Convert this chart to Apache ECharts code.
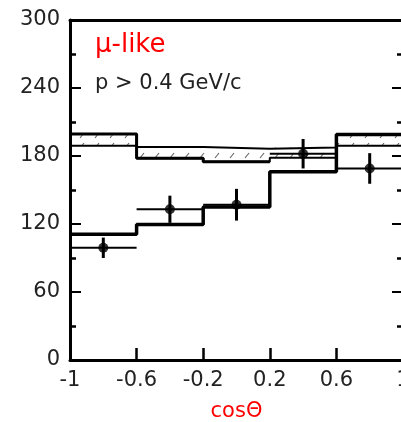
<!DOCTYPE html>
<html>
<head>
<meta charset="utf-8">
<script src="https://cdn.jsdelivr.net/npm/echarts@6/dist/echarts.min.js"></script>
<style>
html,body{margin:0;padding:0;background:#fff;}
#chart{width:401px;height:422px;}
</style>
</head>
<body>
<div id="chart"></div>
<script>
// ---- data ----
const binEdges = [-1, -0.6, -0.2, 0.2, 0.6, 1];
const binCenters = [-0.8, -0.4, 0, 0.4, 0.8];
const noOscHigh = [199.5, 188, 186.5, 187.5, 198.5];   // hatched band upper edge
const noOscLow  = [189, 178, 175, 178.5, 189];         // hatched band lower edge
const noOscThick = [199.5, 178, 175];                  // thick edge drawn in first bins
const oscFit = [111, 119.5, 135, 166, 199];            // best-fit oscillation histogram
const dataY = [99, 133, 137, 182, 169];                // data points
const dataErr = [9, 12, 14, 13, 13.5];                 // vertical errors
const yTicks = [0, 60, 120, 180, 240, 300];
const xTicks = [-1, -0.6, -0.2, 0.2, 0.6, 1];
const titleText = 'μ-like';
const cutText = 'p > 0.4 GeV/c';
const xName = 'cosΘ';

const FONT = 'DejaVu Sans';

function stepData(vals) {
  const d = vals.map((v, i) => [binEdges[i], v]);
  d.push([binEdges[vals.length], vals[vals.length - 1]]);
  return d;
}

// hatch pattern
const pc = document.createElement('canvas');
pc.width = 15; pc.height = 10;
const pctx = pc.getContext('2d');
pctx.strokeStyle = '#666';
pctx.lineWidth = 1.2;
pctx.beginPath();
pctx.moveTo(5, 8); pctx.lineTo(9, 3);
pctx.stroke();

const boxData = noOscHigh.map((h, i) => [binEdges[i], binEdges[i + 1], noOscLow[i], h]);
const errData = dataY.map((y, i) => [binCenters[i], y, binEdges[i], binEdges[i + 1], dataErr[i]]);

const chart = echarts.init(document.getElementById('chart'), null, {renderer: 'canvas'});
const yMin = yTicks[0], yMax = yTicks[yTicks.length - 1], yStep = yTicks[1] - yTicks[0];
const xMin = xTicks[0], xMax = xTicks[xTicks.length - 1], xStep = +(xTicks[1] - xTicks[0]).toFixed(2);

const option = {
  animation: false,
  backgroundColor: '#fff',
  grid: {left: 70, top: 20, right: -2, bottom: 62, containLabel: false, outerBoundsMode: 'none'},
  xAxis: [{
    type: 'value', position: 'bottom', min: xMin, max: xMax, interval: xStep,
    name: xName, nameLocation: 'middle', nameGap: 41,
    nameTextStyle: {color: '#ff0000', fontFamily: FONT, fontSize: 21},
    axisLine: {show: true, onZero: false, lineStyle: {color: '#000', width: 3}},
    axisTick: {show: true, inside: true, length: 12, lineStyle: {color: '#000', width: 2.5}},
    axisLabel: {color: '#222', fontFamily: FONT, fontSize: 21, margin: 10,
      formatter: v => String(Math.round(v * 10) / 10)},
    splitLine: {show: false}
  }, {
    type: 'value', position: 'top', min: xMin, max: xMax, interval: xStep,
    axisLine: {show: true, onZero: false, lineStyle: {color: '#000', width: 3}},
    axisTick: {show: false}, axisLabel: {show: false}, splitLine: {show: false}
  }],
  yAxis: [{
    type: 'value', position: 'left', min: yMin, max: yMax, interval: yStep,
    axisLine: {show: true, onZero: false, lineStyle: {color: '#000', width: 3}},
    axisTick: {show: true, inside: true, length: 11, lineStyle: {color: '#000', width: 2}},
    minorTick: {show: true, splitNumber: 2, length: 6, lineStyle: {color: '#000', width: 2.5}},
    axisLabel: {color: '#222', fontFamily: FONT, fontSize: 21, margin: 10},
    splitLine: {show: false}, minorSplitLine: {show: false}
  }, {
    type: 'value', position: 'right', min: yMin, max: yMax, interval: yStep,
    axisLine: {show: true, onZero: false, lineStyle: {color: '#000', width: 3}},
    axisTick: {show: true, inside: true, length: 11, lineStyle: {color: '#000', width: 2}},
    minorTick: {show: true, splitNumber: 2, length: 6, lineStyle: {color: '#000', width: 2.5}},
    axisLabel: {show: false}, splitLine: {show: false}, minorSplitLine: {show: false}
  }],
  graphic: [
    {type: 'text', left: 95, top: 32, silent: true,
     style: {text: titleText, fill: '#ff0000', font: '26px "' + FONT + '"'}},
    {type: 'text', left: 95, top: 73, silent: true,
     style: {text: cutText, fill: '#222', font: '21px "' + FONT + '"'}}
  ],
  series: [
    {
      type: 'custom', name: 'band', silent: true, z: 2,
      renderItem: function (params, api) {
        const p0 = api.coord([api.value(0), api.value(3)]);
        const p1 = api.coord([api.value(1), api.value(2)]);
        return {type: 'rect',
          shape: {x: p0[0], y: p0[1], width: p1[0] - p0[0], height: p1[1] - p0[1]},
          style: {fill: {image: pc, repeat: 'repeat'}, stroke: null}};
      },
      data: boxData
    },
    {type: 'line', step: 'end', symbol: 'none', silent: true, z: 3,
     lineStyle: {color: '#000', width: 2}, data: stepData(noOscHigh)},
    {type: 'line', step: 'end', symbol: 'none', silent: true, z: 3,
     lineStyle: {color: '#000', width: 2}, data: stepData(noOscLow)},
    {type: 'line', step: 'end', symbol: 'none', silent: true, z: 3,
     lineStyle: {color: '#000', width: 3}, data: stepData(noOscThick)},
    {type: 'line', step: 'end', symbol: 'none', silent: true, z: 4,
     lineStyle: {color: '#000', width: 3.5}, data: stepData(oscFit)},
    {
      type: 'custom', name: 'errors', silent: true, z: 5,
      renderItem: function (params, api) {
        const x = api.value(0), y = api.value(1), xl = api.value(2), xh = api.value(3), e = api.value(4);
        const a = api.coord([xl, y]), b = api.coord([xh, y]);
        const t = api.coord([x, y + e]), u = api.coord([x, y - e]);
        return {type: 'group', children: [
          {type: 'line', shape: {x1: a[0], y1: a[1], x2: b[0], y2: b[1]}, style: {stroke: '#000', lineWidth: 2}},
          {type: 'line', shape: {x1: t[0], y1: t[1], x2: u[0], y2: u[1]}, style: {stroke: '#000', lineWidth: 3}}
        ]};
      },
      data: errData
    },
    {type: 'scatter', symbol: 'circle', symbolSize: 10, silent: true, z: 6,
     itemStyle: {color: '#000'}, data: dataY.map((y, i) => [binCenters[i], y])}
  ]
};
chart.setOption(option);
</script>
</body>
</html>
